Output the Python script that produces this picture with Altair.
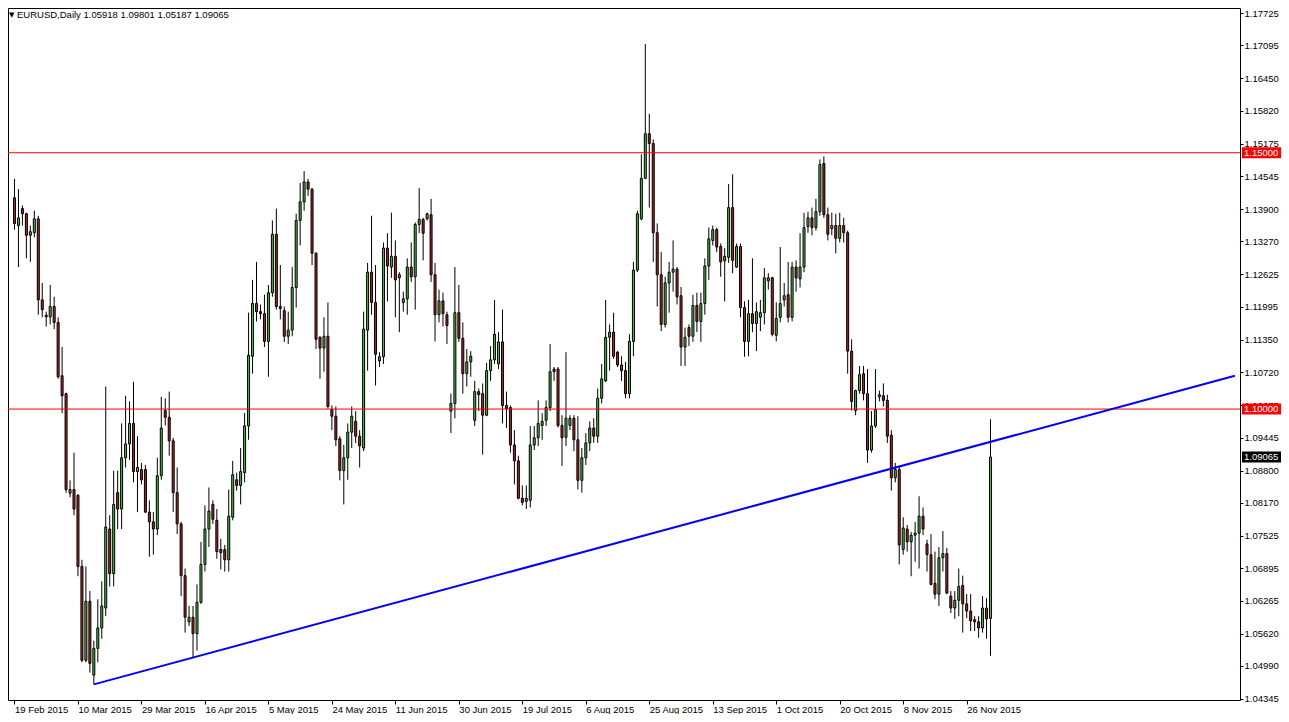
import altair as alt
import pandas as pd

FONT = "Liberation Sans"
GREEN = "#44c044"
RED = "#b22222"

symbol_label = "EURUSD,Daily"
header_values = ["1.05918", "1.09801", "1.05187", "1.09065"]

opens = [
    1.1412, 1.1358, 1.1391, 1.1381, 1.1339, 1.1344, 1.1371, 1.1213, 1.1183, 1.1180,
    1.1200, 1.1169, 1.1065, 1.1030, 1.0836, 1.0843, 1.0832, 1.0693, 1.0510, 1.0625,
    1.0481, 1.0533, 1.0573, 1.0612, 1.0766, 1.0679, 1.0837, 1.0805, 1.0905, 1.0932,
    1.0972, 1.0878, 1.0882, 1.0882, 1.0799, 1.0780, 1.0766, 1.0870, 1.0997, 1.0984,
    1.0938, 1.0837, 1.0776, 1.0675, 1.0585, 1.0594, 1.0562, 1.0623, 1.0697, 1.0766,
    1.0814, 1.0783, 1.0726, 1.0726, 1.0706, 1.0789, 1.0862, 1.0851, 1.0876, 1.0967,
    1.1103, 1.1206, 1.1190, 1.1186, 1.1132, 1.1227, 1.1341, 1.1200, 1.1192, 1.1142,
    1.1154, 1.1237, 1.1368, 1.1404, 1.1443, 1.1429, 1.1304, 1.1140, 1.1119, 1.1142,
    1.0999, 1.0986, 1.0942, 1.0880, 1.0905, 1.0955, 1.0976, 1.0947, 1.0924, 1.1154,
    1.1267, 1.1208, 1.1094, 1.1102, 1.1314, 1.1277, 1.1298, 1.1256, 1.1208, 1.1215,
    1.1277, 1.1258, 1.1360, 1.1370, 1.1371, 1.1379, 1.1262, 1.1184, 1.1211, 1.1184,
    1.0996, 1.1011, 1.1188, 1.1138, 1.1069, 1.1092, 1.0978, 1.1034, 1.1030, 1.0988,
    1.1075, 1.1096, 1.1088, 1.1131, 1.1007, 1.1003, 1.0930, 1.0899, 1.0826, 1.0820,
    1.0822, 1.0930, 1.0944, 1.0968, 1.0978, 1.1003, 1.1078, 1.1078, 1.0968, 1.0945,
    1.0968, 1.0982, 1.0940, 1.0861, 1.0905, 1.0934, 1.0963, 1.0947, 1.1021, 1.1055,
    1.1140, 1.1150, 1.1111, 1.1086, 1.1075, 1.1030, 1.1132, 1.1271, 1.1371, 1.1450,
    1.1537, 1.1518, 1.1344, 1.1262, 1.1165, 1.1246, 1.1267, 1.1273, 1.1221, 1.1121,
    1.1159, 1.1142, 1.1202, 1.1171, 1.1206, 1.1279, 1.1329, 1.1350, 1.1317, 1.1289,
    1.1296, 1.1393, 1.1277, 1.1317, 1.1198, 1.1132, 1.1186, 1.1167, 1.1179, 1.1188,
    1.1250, 1.1256, 1.1144, 1.1179, 1.1213, 1.1223, 1.1179, 1.1277, 1.1254, 1.1277,
    1.1356, 1.1373, 1.1354, 1.1385, 1.1479, 1.1379, 1.1352, 1.1358, 1.1333, 1.1358,
    1.1344, 1.1113, 1.0997, 1.1036, 1.1069, 1.1030, 1.0920, 1.0967, 1.1024, 1.1026,
    1.1017, 1.0949, 1.0866, 1.0882, 1.0726, 1.0766, 1.0741, 1.0754, 1.0758, 1.0791,
    1.0737, 1.0716, 1.0660, 1.0639, 1.0710, 1.0718, 1.0635, 1.0612, 1.0627, 1.0656,
    1.0620, 1.0606, 1.0589, 1.0585, 1.0573, 1.0612, 1.05918,
]
highs = [
    1.1449, 1.1429, 1.1397, 1.1383, 1.1358, 1.1387, 1.1377, 1.1246, 1.1190, 1.1242,
    1.1219, 1.1179, 1.1121, 1.1032, 1.0861, 1.0915, 1.0834, 1.0706, 1.0693, 1.0645,
    1.0548, 1.0629, 1.0664, 1.1044, 1.0793, 1.0880, 1.0880, 1.0972, 1.1026, 1.1015,
    1.1053, 1.0947, 1.0895, 1.0891, 1.0822, 1.0799, 1.0905, 1.1024, 1.1021, 1.1034,
    1.0944, 1.0886, 1.0780, 1.0689, 1.0616, 1.0616, 1.0658, 1.0741, 1.0812, 1.0847,
    1.0822, 1.0805, 1.0747, 1.0735, 1.0843, 1.0899, 1.0876, 1.0924, 1.0992, 1.1188,
    1.1252, 1.1287, 1.1204, 1.1223, 1.1242, 1.1368, 1.1391, 1.1281, 1.1200, 1.1190,
    1.1277, 1.1381, 1.1441, 1.1464, 1.1449, 1.1431, 1.1306, 1.1142, 1.1179, 1.1208,
    1.1007, 1.1005, 1.0947, 1.0930, 1.0972, 1.1005, 1.0996, 1.0959, 1.1190, 1.1285,
    1.1377, 1.1281, 1.1111, 1.1325, 1.1343, 1.1383, 1.1329, 1.1267, 1.1229, 1.1294,
    1.1325, 1.1364, 1.1431, 1.1373, 1.1383, 1.1410, 1.1285, 1.1233, 1.1227, 1.1190,
    1.1030, 1.1277, 1.1242, 1.1169, 1.1117, 1.1113, 1.1055, 1.1040, 1.1050, 1.1090,
    1.1123, 1.1213, 1.1150, 1.1194, 1.1034, 1.1007, 1.0959, 1.0909, 1.0851, 1.0851,
    1.0967, 1.0967, 1.1017, 1.0992, 1.1017, 1.1127, 1.1082, 1.1082, 1.0988, 1.1111,
    1.0988, 1.0988, 1.0986, 1.0924, 1.0953, 1.0976, 1.0982, 1.1040, 1.1088, 1.1213,
    1.1165, 1.1188, 1.1113, 1.1103, 1.1092, 1.1146, 1.1287, 1.1387, 1.1497, 1.1712,
    1.1576, 1.1526, 1.1362, 1.1306, 1.1258, 1.1287, 1.1329, 1.1277, 1.1238, 1.1159,
    1.1165, 1.1223, 1.1227, 1.1227, 1.1294, 1.1354, 1.1358, 1.1354, 1.1323, 1.1314,
    1.1439, 1.1458, 1.1323, 1.1323, 1.1210, 1.1213, 1.1294, 1.1208, 1.1213, 1.1275,
    1.1265, 1.1258, 1.1208, 1.1316, 1.1246, 1.1287, 1.1287, 1.1290, 1.1343, 1.1383,
    1.1385, 1.1393, 1.1410, 1.1487, 1.1493, 1.1393, 1.1383, 1.1381, 1.1383, 1.1373,
    1.1348, 1.1136, 1.1038, 1.1084, 1.1084, 1.1078, 1.0996, 1.1078, 1.1036, 1.1050,
    1.1028, 1.0959, 1.0895, 1.0889, 1.0789, 1.0774, 1.0760, 1.0780, 1.0830, 1.0808,
    1.0745, 1.0756, 1.0722, 1.0731, 1.0762, 1.0729, 1.0645, 1.0645, 1.0689, 1.0675,
    1.0639, 1.0639, 1.0596, 1.0596, 1.0635, 1.0631, 1.09801,
]
lows = [
    1.1350, 1.1277, 1.1358, 1.1294, 1.1287, 1.1335, 1.1184, 1.1179, 1.1161, 1.1165,
    1.1156, 1.1059, 1.0992, 1.0837, 1.0828, 1.0793, 1.0674, 1.0506, 1.0506, 1.0486,
    1.0463, 1.0506, 1.0552, 1.0596, 1.0654, 1.0654, 1.0766, 1.0766, 1.0886, 1.0901,
    1.0857, 1.0799, 1.0853, 1.0797, 1.0712, 1.0716, 1.0754, 1.0862, 1.0968, 1.0909,
    1.0799, 1.0756, 1.0635, 1.0564, 1.0577, 1.0514, 1.0529, 1.0620, 1.0683, 1.0731,
    1.0776, 1.0708, 1.0687, 1.0683, 1.0683, 1.0783, 1.0841, 1.0814, 1.0857, 1.0940,
    1.1069, 1.1171, 1.1175, 1.1121, 1.1063, 1.1219, 1.1194, 1.1175, 1.1131, 1.1127,
    1.1142, 1.1198, 1.1319, 1.1387, 1.1416, 1.1281, 1.1117, 1.1059, 1.1073, 1.1001,
    1.0959, 1.0928, 1.0861, 1.0814, 1.0862, 1.0924, 1.0934, 1.0886, 1.0918, 1.1075,
    1.1184, 1.1046, 1.1082, 1.1088, 1.1210, 1.1256, 1.1179, 1.1150, 1.1190, 1.1184,
    1.1248, 1.1194, 1.1343, 1.1290, 1.1368, 1.1248, 1.1132, 1.1169, 1.1161, 1.1127,
    1.0953, 1.0982, 1.1131, 1.1030, 1.1044, 1.1063, 1.0967, 1.0996, 1.0911, 1.0986,
    1.1055, 1.1088, 1.1078, 1.0972, 1.0963, 1.0915, 1.0853, 1.0824, 1.0812, 1.0805,
    1.0808, 1.0920, 1.0928, 1.0940, 1.0967, 1.0996, 1.1055, 1.0964, 1.0889, 1.0928,
    1.0959, 1.0918, 1.0843, 1.0837, 1.0891, 1.0918, 1.0934, 1.0934, 1.1011, 1.1053,
    1.1075, 1.1098, 1.1082, 1.1055, 1.1021, 1.1021, 1.1103, 1.1267, 1.1368, 1.1449,
    1.1393, 1.1287, 1.1200, 1.1152, 1.1159, 1.1188, 1.1229, 1.1204, 1.1084, 1.1084,
    1.1123, 1.1131, 1.1150, 1.1131, 1.1184, 1.1252, 1.1319, 1.1306, 1.1258, 1.1210,
    1.1285, 1.1265, 1.1275, 1.1179, 1.1102, 1.1103, 1.1150, 1.1113, 1.1152, 1.1165,
    1.1233, 1.1142, 1.1132, 1.1169, 1.1200, 1.1169, 1.1171, 1.1229, 1.1237, 1.1267,
    1.1344, 1.1339, 1.1348, 1.1377, 1.1373, 1.1329, 1.1339, 1.1304, 1.1325, 1.1325,
    1.1069, 1.0997, 1.0988, 1.1030, 1.1017, 1.0895, 1.0915, 1.0963, 1.1015, 1.1005,
    1.0934, 1.0841, 1.0857, 1.0697, 1.0716, 1.0722, 1.0674, 1.0702, 1.0689, 1.0754,
    1.0683, 1.0656, 1.0629, 1.0616, 1.0683, 1.0639, 1.0602, 1.0591, 1.0596, 1.0564,
    1.0592, 1.0567, 1.0567, 1.0554, 1.0564, 1.0552, 1.05187,
]
closes = [
    1.1362, 1.1373, 1.1381, 1.1339, 1.1346, 1.1371, 1.1213, 1.1194, 1.1180, 1.1200,
    1.1169, 1.1063, 1.1026, 1.0843, 1.0843, 1.0805, 1.0693, 1.0510, 1.0625, 1.0504,
    1.0533, 1.0573, 1.0616, 1.0770, 1.0679, 1.0814, 1.0805, 1.0905, 1.0932, 1.0972,
    1.0878, 1.0886, 1.0862, 1.0799, 1.0780, 1.0766, 1.0870, 1.0963, 1.0984, 1.0938,
    1.0837, 1.0776, 1.0675, 1.0594, 1.0594, 1.0562, 1.0623, 1.0697, 1.0766, 1.0801,
    1.0785, 1.0722, 1.0720, 1.0706, 1.0791, 1.0872, 1.0851, 1.0878, 1.0967, 1.1105,
    1.1206, 1.1190, 1.1186, 1.1132, 1.1227, 1.1341, 1.1200, 1.1196, 1.1142, 1.1154,
    1.1237, 1.1368, 1.1404, 1.1443, 1.1429, 1.1304, 1.1136, 1.1119, 1.1142, 1.1005,
    1.0986, 1.0940, 1.0880, 1.0905, 1.0955, 1.0986, 1.0947, 1.0928, 1.1156, 1.1267,
    1.1208, 1.1107, 1.1102, 1.1314, 1.1279, 1.1298, 1.1252, 1.1262, 1.1215, 1.1277,
    1.1258, 1.1360, 1.1370, 1.1343, 1.1381, 1.1262, 1.1184, 1.1211, 1.1186, 1.1163,
    1.1011, 1.1188, 1.1138, 1.1069, 1.1092, 1.1103, 1.1034, 1.1028, 1.0988, 1.1075,
    1.1096, 1.1146, 1.1131, 1.1007, 1.1001, 1.0930, 1.0899, 1.0826, 1.0818, 1.0826,
    1.0930, 1.0944, 1.0972, 1.0976, 1.1003, 1.1073, 1.1073, 1.0968, 1.0944, 1.0982,
    1.0982, 1.0940, 1.0861, 1.0905, 1.0934, 1.0963, 1.0947, 1.1021, 1.1059, 1.1140,
    1.1150, 1.1103, 1.1086, 1.1075, 1.1030, 1.1132, 1.1271, 1.1381, 1.1450, 1.1537,
    1.1518, 1.1344, 1.1262, 1.1165, 1.1246, 1.1267, 1.1273, 1.1219, 1.1121, 1.1140,
    1.1142, 1.1202, 1.1171, 1.1206, 1.1279, 1.1332, 1.1350, 1.1316, 1.1287, 1.1298,
    1.1393, 1.1290, 1.1317, 1.1198, 1.1132, 1.1186, 1.1167, 1.1190, 1.1188, 1.1256,
    1.1256, 1.1146, 1.1177, 1.1206, 1.1221, 1.1179, 1.1277, 1.1256, 1.1277, 1.1354,
    1.1373, 1.1354, 1.1385, 1.1477, 1.1379, 1.1341, 1.1358, 1.1333, 1.1358, 1.1344,
    1.1113, 1.1015, 1.1036, 1.1067, 1.1030, 1.0920, 1.0967, 1.0999, 1.1028, 1.1017,
    1.0947, 1.0866, 1.0882, 1.0735, 1.0768, 1.0741, 1.0754, 1.0758, 1.0791, 1.0766,
    1.0716, 1.0658, 1.0639, 1.0710, 1.0718, 1.0641, 1.0612, 1.0627, 1.0654, 1.0620,
    1.0606, 1.0587, 1.0585, 1.0573, 1.0612, 1.0591, 1.09065,
]

tick_bars = [0, 16, 32, 48, 64, 80, 96, 112, 128, 144, 160, 176, 192, 208, 224, 240]
tick_labels = ["19 Feb 2015", "10 Mar 2015", "29 Mar 2015", "16 Apr 2015",
               "5 May 2015", "24 May 2015", "11 Jun 2015", "30 Jun 2015",
               "19 Jul 2015", "6 Aug 2015", "25 Aug 2015", "13 Sep 2015",
               "1 Oct 2015", "20 Oct 2015", "8 Nov 2015", "26 Nov 2015"]

price_ticks = [1.17725, 1.17095, 1.16450, 1.15820, 1.15175, 1.14545, 1.13900,
               1.13270, 1.12625, 1.11995, 1.11350, 1.10720, 1.10075, 1.09445,
               1.08800, 1.08170, 1.07525, 1.06895, 1.06265, 1.05620, 1.04990, 1.04345]

level_prices = [1.15, 1.10]
level_labels = ["1.15000", "1.10000"]
last_price = 1.09065
last_label = "1.09065"
trend_bars = [20, 307.6]
trend_prices = [1.0463, 1.1065]

W, H = 1232, 692
x_dom = [-0.375, 307.625]
y_dom = [1.04325, 1.17823]

df = pd.DataFrame({"bar": list(range(len(opens))), "open": opens, "high": highs,
                   "low": lows, "close": closes})
df["dir"] = ["up" if c >= o else "down" for o, c in zip(opens, closes)]

xs = alt.Scale(domain=x_dom, nice=False, zero=False)
ys = alt.Scale(domain=y_dom, nice=False, zero=False)

label_expr = "[" + ",".join("'%s'" % t for t in tick_labels) + "][round(datum.value/16)]"

x_axis = alt.Axis(values=tick_bars, labelExpr=label_expr, labelAlign="left",
                  labelFlush=False, labelOverlap=False, tickSize=4, tickColor="black",
                  labelPadding=0, labelFont=FONT, labelFontSize=9.5, labelColor="black",
                  labelBaseline="top", domain=False, grid=False, title=None)
y_axis = alt.Axis(orient="right", values=price_ticks, format=".5f", labelAlign="left",
                  labelOverlap=False, labelFlush=False, tickSize=3, tickColor="black",
                  labelPadding=1, labelFont=FONT, labelFontSize=9.5, labelColor="black",
                  domain=False, grid=False, title=None)

X = lambda f: alt.X(f, scale=xs, axis=x_axis)
Y = lambda f: alt.Y(f, scale=ys, axis=y_axis)

base = alt.Chart(df)
wicks = base.mark_rule(color="black", strokeWidth=1).encode(
    x=X("bar:Q"), y=Y("low:Q"), y2="high:Q")
bodies = base.mark_bar(width=2, stroke="black", strokeWidth=1).encode(
    x=X("bar:Q"), y=Y("open:Q"), y2="close:Q",
    color=alt.Color("dir:N", scale=alt.Scale(domain=["up", "down"], range=[GREEN, RED]),
                    legend=None))

levels_df = pd.DataFrame({"price": level_prices, "label": level_labels})
levels = alt.Chart(levels_df).mark_rule(color="#ff0000", strokeWidth=1).encode(y=Y("price:Q"))

trend_df = pd.DataFrame({"bar": trend_bars, "price": trend_prices})
trend = alt.Chart(trend_df).mark_line(color="#0000ff", strokeWidth=2).encode(
    x=X("bar:Q"), y=Y("price:Q"))

tags_df = pd.DataFrame({"price": level_prices + [last_price],
                        "label": level_labels + [last_label],
                        "bg": ["#ff0000", "#ff0000", "#000000"]})
tag_boxes = alt.Chart(tags_df).mark_rule(strokeWidth=11, strokeCap="butt").encode(
    x=alt.value(W + 2), x2=alt.value(W + 41), y=Y("price:Q"),
    color=alt.Color("bg:N", scale=None))
tag_text = alt.Chart(tags_df).mark_text(align="left", baseline="middle", font=FONT,
                                        fontSize=9.5, color="white").encode(
    x=alt.value(W + 4), y=Y("price:Q"), text="label:N")

header_df = pd.DataFrame({"t": [symbol_label + "  " + " ".join(header_values)]})
header = alt.Chart(header_df).mark_text(align="left", baseline="middle", font=FONT,
                                        fontSize=9.5, color="black").encode(
    x=alt.value(9), y=alt.value(7), text="t:N")
tri_df = pd.DataFrame({"t": ["\u25bc"]})
tri = alt.Chart(tri_df).mark_text(align="left", baseline="middle", font="DejaVu Sans",
                                  fontSize=7, color="black").encode(
    x=alt.value(1), y=alt.value(7), text="t:N")

chart = alt.layer(wicks, bodies, levels, trend, tag_boxes, tag_text, header, tri).properties(
    width=W, height=H,
    autosize=alt.AutoSizeParams(type="none"),
    padding={"left": 0, "top": 0, "right": 41, "bottom": 14},
    background="white",
).configure_view(stroke="black", strokeWidth=1)

chart.save("out.html", embed_options={"renderer": "svg", "actions": False})
